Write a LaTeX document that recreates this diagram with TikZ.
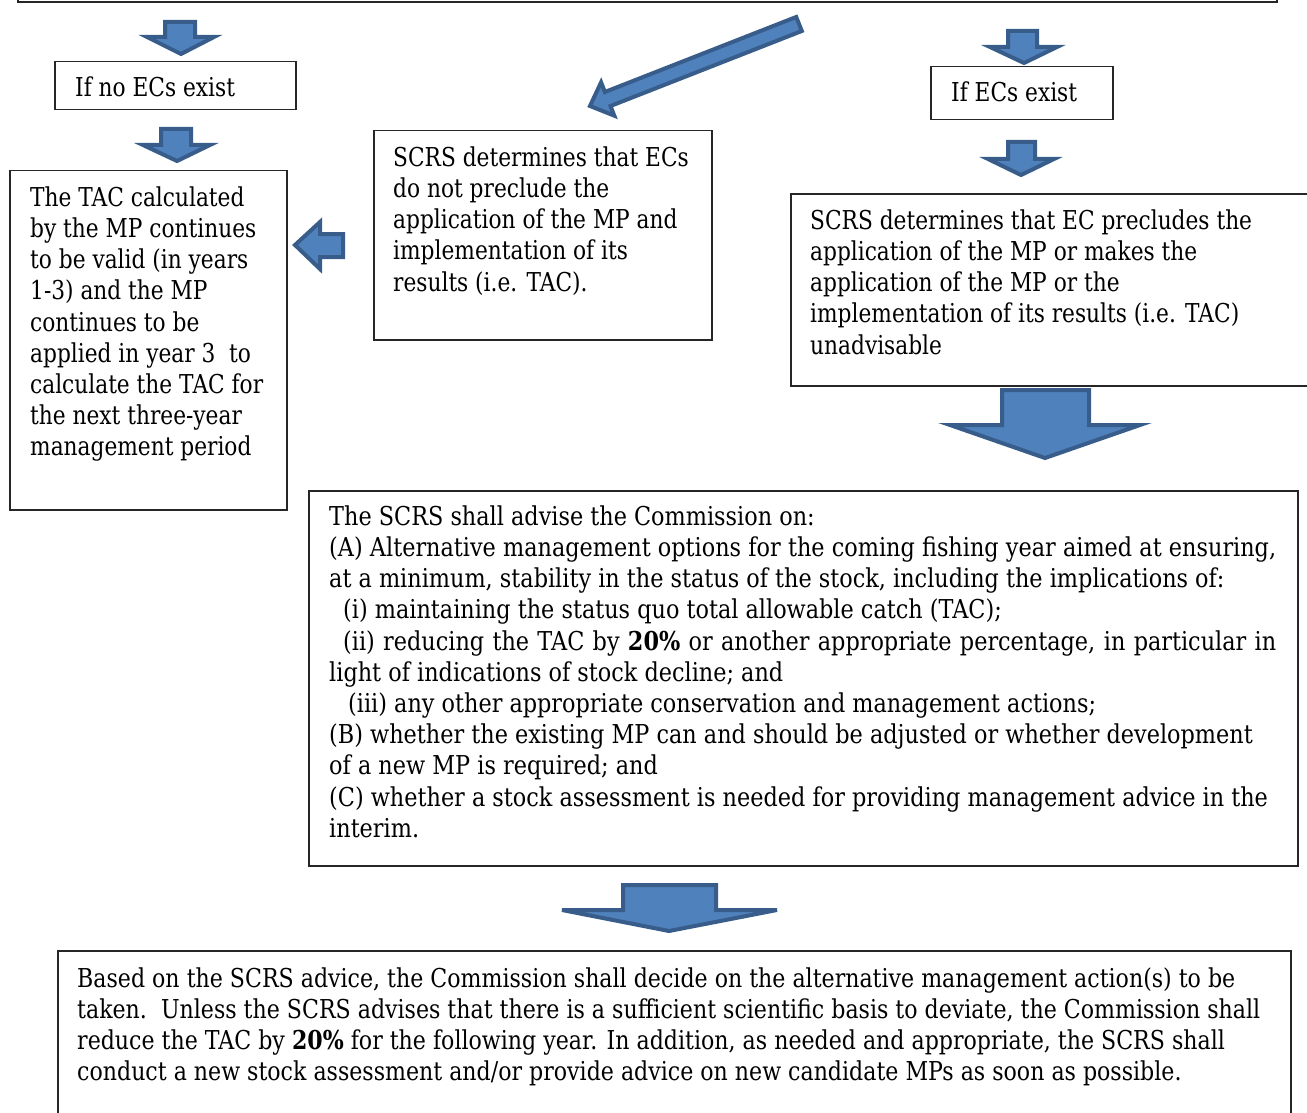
\documentclass[tikz,border=0pt]{standalone}
\usepackage{fontspec}
\setmainfont{DejaVu Serif}[FakeStretch=0.835]
\newfontfamily\advfont{DejaVu Serif}[FakeStretch=0.86]
\newfontfamily\narrowfont{DejaVu Serif}[FakeStretch=0.85]
\definecolor{arrowfill}{HTML}{4F81BD}
\definecolor{arrowline}{HTML}{385D8A}
\tikzset{
  box/.style={draw=black!85, line width=1.5pt, anchor=north west, inner sep=0pt},
  txt/.style={anchor=north west, inner sep=0pt, align=left, font=\fontsize{26}{31.2}\selectfont},
  blockarrow/.style={fill=arrowfill, draw=arrowline, line width=4pt, line join=miter},
}
% down block arrow: shaft left, shaft right, shaft top, head base, head left, head right, tip x, tip y
\newcommand\blkdown[8]{\draw[blockarrow] (#1,#3) -- (#2,#3) -- (#2,#4) -- (#6,#4) -- (#7,#8) -- (#5,#4) -- (#1,#4) -- cycle;}
\begin{document}
\begin{tikzpicture}[x=1pt,y=-1pt]
\useasboundingbox (0,0) rectangle (1307,1113);
\clip (0,0) rectangle (1307,1113);

% boxes
\draw[draw=black!85, line width=1.5pt] (18,-10) rectangle (1277,2);
\node[box, minimum width=241pt, minimum height=48pt] (bNo) at (54,61) {};
\node[box, minimum width=182pt, minimum height=53pt] (bYes) at (930,66) {};
\node[box, minimum width=277pt, minimum height=339pt] (bLeft) at (9,170) {};
\node[box, minimum width=338pt, minimum height=209pt] (bMid) at (373,130) {};
\node[box, minimum width=525pt, minimum height=192pt] (bRight) at (790,193) {};
\node[box, minimum width=989pt, minimum height=375pt] (bAdv) at (308,490) {};
\node[box, minimum width=1233pt, minimum height=180pt] (bBot) at (57,950) {};

% texts
\node[txt] (tNo) at (75,74.2) {\strut If no ECs exist};
\node[txt] (tYes) at (951,79.2) {\strut If ECs exist};
\node[txt] (tLeft) at (30,184.2) {\strut The TAC calculated\\
by the MP continues\\
to be valid (in years\\
1-3) and the MP\\
continues to be\\
applied in year 3\ \ to\\
calculate the TAC for\\
the next three-year\\
management period};
\node[txt] (tMid) at (393,144.2) {\strut SCRS determines that ECs\\
do not preclude the\\
application of the MP and\\
implementation of its\\
results (i.e. TAC).};
\node[txt] (tRight) at (810,207.2) {\strut SCRS determines that EC precludes the\\
application of the MP or makes the\\
application of the MP or the\\
implementation of its results (i.e. TAC)\\
unadvisable};
\node[txt, font=\fontsize{26}{31.2}\advfont] (tAdv) at (329,503.2) {\strut The SCRS shall advise the Commission on:\\
\makebox[947pt][s]{(A) Alternative management options for the coming fishing year aimed at ensuring,}\\
at a minimum, stability in the status of the stock, including the implications of:\\
\hspace*{14pt}(i) maintaining the status quo total allowable catch (TAC);\\
\hspace*{14pt}\makebox[933pt][s]{(ii) reducing the TAC by \textbf{20\%} or another appropriate percentage, in particular in}\\
light of indications of stock decline; and\\
\hspace*{19pt}(iii) any other appropriate conservation and management actions;\\
(B) whether the existing MP can and should be adjusted or whether development\\
of a new MP is required; and\\
(C) whether a stock assessment is needed for providing management advice in the\\
interim.};
\node[txt, font=\fontsize{26}{31.2}\narrowfont] (tBot) at (77,965.2) {\strut Based on the SCRS advice, the Commission shall decide on the alternative management action(s) to be\\
taken.\ \ Unless the SCRS advises that there is a sufficient scientific basis to deviate, the Commission shall\\
reduce the TAC by \textbf{20\%} for the following year. In addition, as needed and appropriate, the SCRS shall\\
conduct a new stock assessment and/or provide advice on new candidate MPs as soon as possible.};

% block arrows
\blkdown{165}{195}{22}{37}{147}{214}{181}{54}
\blkdown{161}{191}{129}{145}{143}{210}{177}{161}
\blkdown{1008}{1037}{31}{47}{990}{1057}{1024}{63}
\blkdown{1008}{1035}{142}{159}{988}{1054}{1021}{175}
\blkdown{1002}{1089}{390}{425}{950}{1140}{1045}{458}
\blkdown{623}{716}{885}{910}{562}{777}{669}{931}
% left-pointing arrow
\draw[blockarrow] (295,245) -- (320,222) -- (320,234) -- (343,234) -- (343,257) -- (320,257) -- (320,269) -- cycle;
% diagonal arrow
\draw[blockarrow] (590,106) -- (601.1,82.3) -- (604.9,92.0) -- (796.2,17.0) -- (801.8,31.0) -- (610.5,106.0) -- (614.3,115.7) -- cycle;
\end{tikzpicture}
\end{document}
